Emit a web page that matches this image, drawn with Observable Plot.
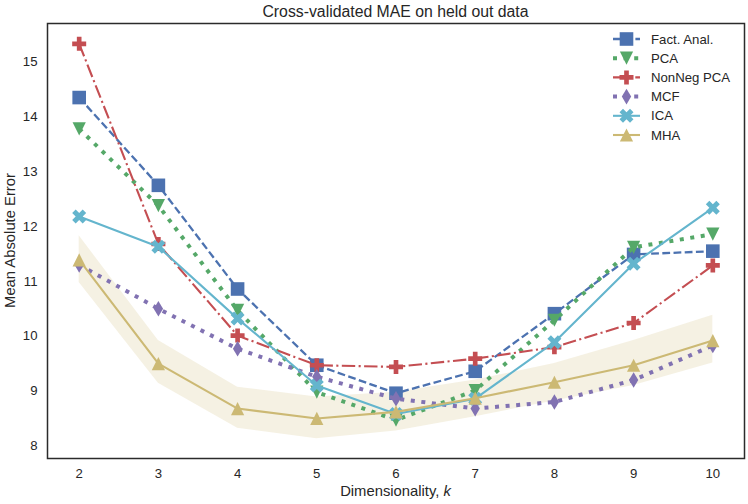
<!DOCTYPE html>
<html><head><meta charset="utf-8">
<script src="https://cdn.jsdelivr.net/npm/d3@7"></script>
<script src="https://cdn.jsdelivr.net/npm/@observablehq/plot@0.6"></script>
<style>body{margin:0;background:#fff;} #chart{width:748px;height:504px;}</style>
</head><body><div id="chart"></div>
<script>
const ks = [2,3,4,5,6,7,8,9,10];
const factAnal = [14.35,12.75,10.86,9.47,8.96,9.36,10.41,11.49,11.55];
const pca = [13.78,12.38,10.47,8.98,8.47,9.01,10.29,11.62,11.86];
const nonNegPca = [15.33,11.68,10.01,9.47,9.44,9.59,9.80,10.24,11.29];
const mcf = [11.30,10.50,9.77,9.26,8.86,8.68,8.80,9.20,9.83];
const ica = [12.18,11.63,10.32,9.10,8.58,8.86,9.89,11.32,12.34];
const mha = [11.39,9.50,8.68,8.50,8.62,8.87,9.16,9.47,9.92];
const mhaLower = [10.98,9.14,8.32,8.13,8.27,8.53,8.82,9.10,9.51];
const mhaUpper = [11.83,9.92,9.07,8.89,8.98,9.20,9.50,9.92,10.38];
const seriesNames = ["Fact. Anal.","PCA","NonNeg PCA","MCF","ICA","MHA"];
const seriesValues = [factAnal, pca, nonNegPca, mcf, ica, mha];
const yTicks = [8,9,10,11,12,13,14,15];

const rad = s => Math.sqrt(s / Math.PI);
const poly = (c, pts) => { c.moveTo(pts[0][0], pts[0][1]); for (let i = 1; i < pts.length; i++) c.lineTo(pts[i][0], pts[i][1]); c.closePath(); };
const plusPts = (L) => { const t = L / 3; return [[-t,-L],[t,-L],[t,-t],[L,-t],[L,t],[t,t],[t,L],[-t,L],[-t,t],[-L,t],[-L,-t],[-t,-t]]; };
const symSquare = {draw(c, s){ const r = rad(s); c.rect(-r, -r, 2*r, 2*r); }};
const symTriDown = {draw(c, s){ const r = rad(s); poly(c, [[0,r],[-r,-r],[r,-r]]); }};
const symTriUp = {draw(c, s){ const r = rad(s); poly(c, [[0,-r],[r,r],[-r,r]]); }};
const symPlus = {draw(c, s){ const r = rad(s); poly(c, plusPts(r)); }};
const symDiamond = {draw(c, s){ const r = rad(s); poly(c, [[0,-r],[0.6*r,0],[0,r],[-0.6*r,0]]); }};
const symX = {draw(c, s){ const r = rad(s); const L = r * Math.SQRT2 * 0.75; const a = Math.SQRT1_2; poly(c, plusPts(L).map(([x,y]) => [a*(x - y), a*(x + y)])); }};

const styles = [
  {color:"#4C72B0", width:2.3, dash:"7.8,3.4", symbol:symSquare, r:6.8},
  {color:"#55A868", width:4, dash:"4,6.6", symbol:symTriDown, r:6.6},
  {color:"#C44E52", width:2.1, dash:"13.4,3.4,2.1,3.4", symbol:symPlus, r:7},
  {color:"#8172B2", width:4, dash:"4,6.6", symbol:symDiamond, r:7.8},
  {color:"#64B5CD", width:2.1, dash:null, symbol:symX, r:7},
  {color:"#CCB974", width:2.1, dash:null, symbol:symTriUp, r:6.6}
];

const band = ks.map((k, i) => ({k, lo: mhaLower[i], hi: mhaUpper[i]}));
const marks = [Plot.areaY(band, {x:"k", y1:"lo", y2:"hi", fill:"#CCB974", fillOpacity:0.2})];
seriesNames.forEach((name, j) => {
  const rows = ks.map((k, i) => ({k, v: seriesValues[j][i], name}));
  const st = styles[j];
  marks.push(Plot.line(rows, {x:"k", y:"v", stroke:st.color, strokeWidth:st.width, strokeDasharray:st.dash, strokeLinecap:"butt"}));
  marks.push(Plot.dot(rows, {x:"k", y:"v", symbol:st.symbol, r:st.r, fill:st.color, stroke:"none"}));
});
marks.push(Plot.axisX({ticks: ks, tickSize:0, tickPadding:10, fontSize:13.2, label:null, tickFormat:d3.format("d")}));
marks.push(Plot.axisY({ticks: yTicks, tickSize:0, tickPadding:10, fontSize:13.2, label:null, tickFormat:d3.format("d")}));
marks.push(Plot.frame({stroke:"#2b2b2b", strokeWidth:1.5}));

const chart = Plot.plot({
  width:748, height:504,
  marginLeft:47, marginRight:4, marginTop:23, marginBottom:46,
  x:{domain:[1.6,10.4]},
  y:{domain:[7.77,15.70]},
  style:{fontFamily:"'Liberation Sans', Arial, sans-serif", background:"white", color:"#262626"},
  marks
});
document.getElementById("chart").appendChild(chart);

const svg = d3.select(chart);
const font = "'Liberation Sans', Arial, sans-serif";
svg.append("text").attr("x", 395.5).attr("y", 17).attr("text-anchor", "middle")
  .attr("font-family", font).attr("font-size", 15.8).attr("fill", "#262626")
  .text("Cross-validated MAE on held out data");
const xl = svg.append("text").attr("x", 395.5).attr("y", 496).attr("text-anchor", "middle")
  .attr("font-family", font).attr("font-size", 14.8).attr("fill", "#262626");
xl.append("tspan").text("Dimensionality, ");
xl.append("tspan").attr("font-style", "italic").text("k");
svg.append("text").attr("transform", "translate(15,240.5) rotate(-90)").attr("text-anchor", "middle")
  .attr("font-family", font).attr("font-size", 14.8).attr("fill", "#262626")
  .text("Mean Absolute Error");

const leg = svg.append("g");
seriesNames.forEach((name, j) => {
  const st = styles[j];
  const y = 39 + j * 19.2;
  leg.append("line").attr("x1", 613).attr("x2", 640).attr("y1", y).attr("y2", y)
    .attr("stroke", st.color).attr("stroke-width", st.width)
    .attr("stroke-dasharray", st.dash).attr("stroke-linecap", "butt");
  leg.append("path").attr("transform", `translate(626.5,${y})`)
    .attr("d", d3.symbol(st.symbol, st.r * st.r * Math.PI)()).attr("fill", st.color);
  leg.append("text").attr("x", 651).attr("y", y).attr("dy", "0.35em").attr("text-anchor", "start")
    .attr("font-family", font).attr("font-size", 13.2).attr("fill", "#262626").text(name);
});
</script></body></html>
